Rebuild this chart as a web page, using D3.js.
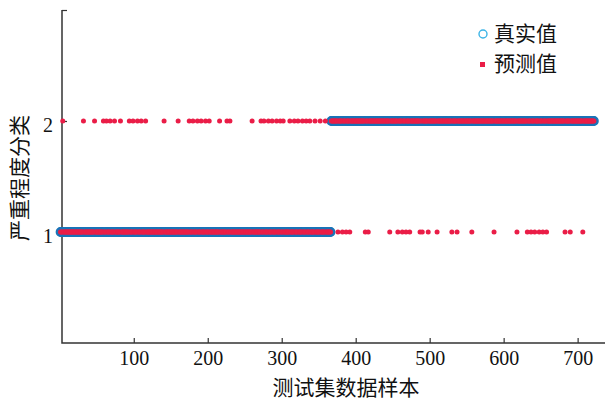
<!DOCTYPE html>
<html>
<head>
<meta charset="utf-8">
<script src="https://cdn.jsdelivr.net/npm/d3@7"></script>
<style>
  body { margin: 0; background: #fff; }
  .tick text { font-family: "Liberation Serif", "Times New Roman", serif; font-size: 20px; fill: #111; }
  .cn { font-family: "Noto Sans CJK SC", sans-serif; font-size: 21px; fill: #111; }
</style>
</head>
<body>
<div id="chart"></div>
<script>
// samples per true class (class 1 first, then class 2)
const classes = [1, 2];
const classCounts = [366, 356];
// samples whose prediction differs from the true class
const wrongAs2 = [4, 32, 47, 59, 63, 68, 74, 82, 94, 99, 105, 110, 116, 141, 160,
  175, 180, 186, 191, 197, 202, 216, 226, 230, 260, 272, 276, 282, 287, 293, 298,
  302, 311, 317, 322, 328, 333, 338, 345, 352, 359];
const wrongAs1 = [376, 382, 387, 392, 413, 417, 446, 457, 463, 468, 473, 487, 490,
  498, 510, 530, 537, 557, 587, 618, 632, 637, 642, 648, 653, 658, 683, 690, 707];
const xTicks = [100, 200, 300, 400, 500, 600, 700];
const yTicks = [1, 2, 3];
const legendNames = ["真实值", "预测值"];

let width = 605, height = 405;

let svg = d3.select("#chart")
  .append("svg")
    .attr("width", width)
    .attr("height", height);

// build true / predicted series
let data = [];
let idx = 1;
classes.forEach((c, k) => {
  for (let j = 0; j < classCounts[k]; j++) {
    data.push({ i: idx, real: c, pred: c });
    idx++;
  }
});
wrongAs2.forEach(s => { data[s - 1].pred = 2; });
wrongAs1.forEach(s => { data[s - 1].pred = 1; });

let x = d3.scaleLinear().domain([3, 737]).range([62, 605]);
let y = d3.scaleLinear().domain([0, 3]).range([343, 10]);

// axes
let xAxis = svg.append("g")
  .attr("transform", "translate(0," + y(0) + ")")
  .call(d3.axisBottom(x).tickValues(xTicks).tickSize(-5).tickPadding(8));
xAxis.select(".domain").remove();
xAxis.selectAll(".tick line").attr("stroke", "#333").attr("stroke-width", 1.2);

let yAxis = svg.append("g")
  .attr("transform", "translate(" + x(3) + ",0)")
  .call(d3.axisLeft(y).tickValues(yTicks).tickSize(-5).tickPadding(9)
    .tickFormat(d => d === 3 ? "" : d));
yAxis.select(".domain").remove();
yAxis.selectAll(".tick line").attr("stroke", "#333").attr("stroke-width", 1.2);
yAxis.selectAll(".tick text").attr("dy", "0.5em");

svg.append("path")
  .attr("d", "M" + x(3) + "," + y(3) + "V" + y(0) + "H" + width)
  .attr("fill", "none")
  .attr("stroke", "#333")
  .attr("stroke-width", 1.5);

// true values
svg.append("g")
  .selectAll("circle")
  .data(data)
  .enter()
  .append("circle")
    .attr("cx", d => x(d.i))
    .attr("cy", d => y(d.real))
    .attr("r", 4.2)
    .attr("fill", "none")
    .attr("stroke", "#1a74b8")
    .attr("stroke-width", 1.4);

// predicted values
svg.append("g")
  .selectAll("circle")
  .data(data)
  .enter()
  .append("circle")
    .attr("cx", d => x(d.i))
    .attr("cy", d => y(d.pred))
    .attr("r", 2.5)
    .attr("fill", "#ea1d47");

// legend
let legend = svg.append("g");
legend.append("circle")
  .attr("cx", 483).attr("cy", 34).attr("r", 4)
  .attr("fill", "none").attr("stroke", "#3cb4e6").attr("stroke-width", 1.4);
legend.append("rect")
  .attr("x", 480).attr("y", 62).attr("width", 5).attr("height", 5)
  .attr("fill", "#ea1d47");
legend.selectAll("text")
  .data(legendNames)
  .enter()
  .append("text")
    .attr("class", "cn")
    .attr("x", 494)
    .attr("y", (d, i) => 34 + i * 30)
    .attr("dy", "0.35em")
    .text(d => d);

// axis titles
svg.append("text")
  .attr("class", "cn")
  .attr("x", 346).attr("y", 395)
  .attr("text-anchor", "middle")
  .text("测试集数据样本");

svg.append("text")
  .attr("class", "cn")
  .attr("transform", "translate(27,178) rotate(-90)")
  .attr("text-anchor", "middle")
  .text("严重程度分类");
</script>
</body>
</html>
